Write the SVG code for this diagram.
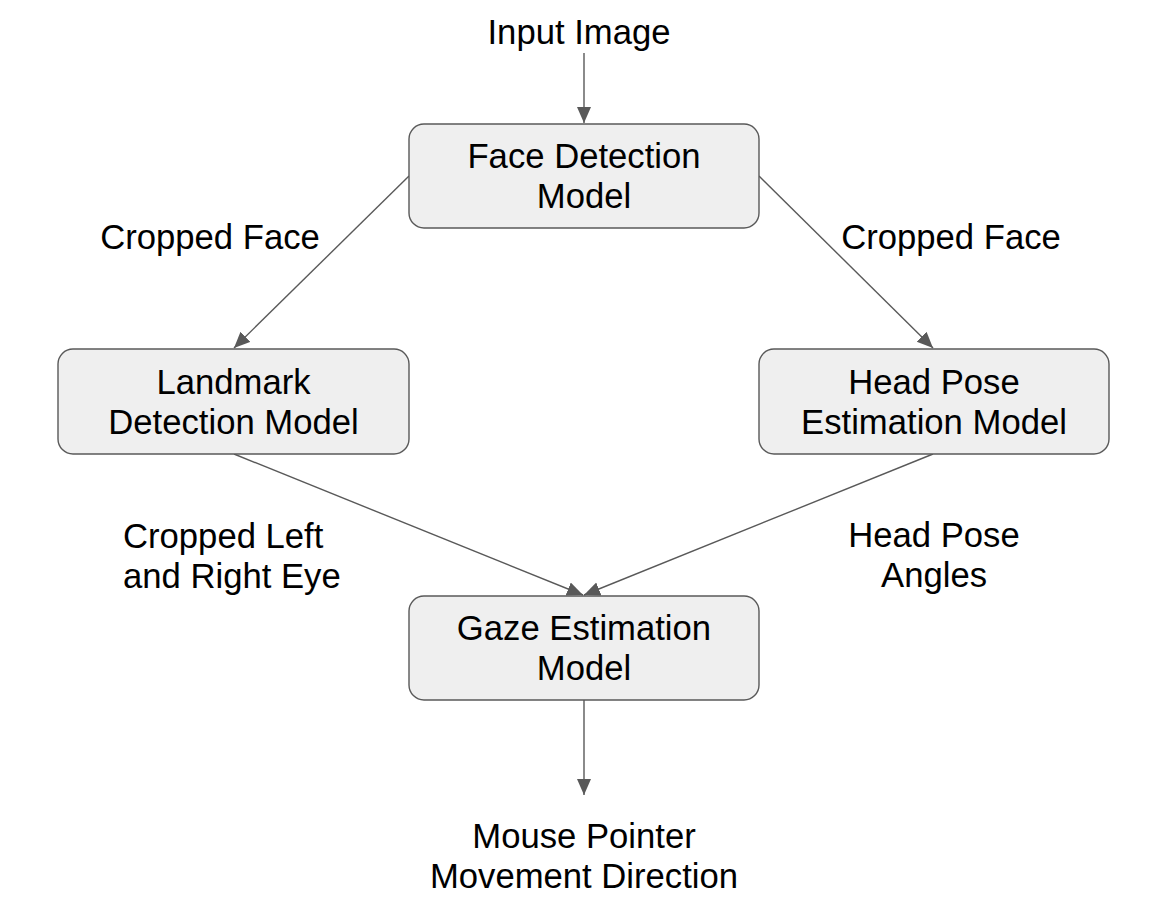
<svg xmlns="http://www.w3.org/2000/svg" width="1170" height="908" viewBox="0 0 1170 908">
<style>
.box{fill:#efefef;stroke:#595959;stroke-width:1.4}
.t{font-family:"Liberation Sans",Arial,sans-serif;font-size:34.67px;fill:#000;text-anchor:middle}
.tl{text-anchor:start}
.c{stroke:#595959;stroke-width:1.4;fill:none;marker-end:url(#ah)}
</style>
<defs>
<marker id="ah" markerUnits="userSpaceOnUse" markerWidth="18" markerHeight="16" refX="16" refY="7" orient="auto" viewBox="0 0 18 16">
<path d="M0,0 L16,7 L0,14 z" fill="#595959"/>
</marker>
</defs>
<rect width="1170" height="908" fill="#fff"/>
<g id="connectors">
<line class="c" x1="584" y1="53" x2="584" y2="123"/>
<line class="c" x1="409" y1="176" x2="234" y2="348"/>
<line class="c" x1="759" y1="176" x2="933" y2="348"/>
<line class="c" x1="234" y1="454" x2="583" y2="595"/>
<line class="c" x1="933" y1="454" x2="584" y2="595"/>
<line class="c" x1="584" y1="700" x2="584" y2="795"/>
</g>
<g id="input-label"><text class="t" x="579" y="44">Input Image</text></g>
<g id="face-detection">
<rect class="box" x="409" y="124" width="350" height="104" rx="15"/>
<text class="t" x="584" y="168">Face Detection</text>
<text class="t" x="584" y="208">Model</text>
</g>
<g id="label-cropped-face-left"><text class="t" x="210" y="249">Cropped Face</text></g>
<g id="label-cropped-face-right"><text class="t" x="951" y="249">Cropped Face</text></g>
<g id="landmark">
<rect class="box" x="58" y="349" width="351" height="105" rx="15"/>
<text class="t" x="233.5" y="394">Landmark</text>
<text class="t" x="233.5" y="434">Detection Model</text>
</g>
<g id="head-pose">
<rect class="box" x="759" y="349" width="350" height="105" rx="15"/>
<text class="t" x="934" y="394">Head Pose</text>
<text class="t" x="934" y="434">Estimation Model</text>
</g>
<g id="label-eyes">
<text class="t tl" x="123" y="548">Cropped Left</text>
<text class="t tl" x="123" y="588">and Right Eye</text>
</g>
<g id="label-angles">
<text class="t" x="934" y="547">Head Pose</text>
<text class="t" x="934" y="587">Angles</text>
</g>
<g id="gaze">
<rect class="box" x="409" y="596" width="350" height="104" rx="15"/>
<text class="t" x="584" y="640">Gaze Estimation</text>
<text class="t" x="584" y="680">Model</text>
</g>
<g id="output-label">
<text class="t" x="584" y="848">Mouse Pointer</text>
<text class="t" x="584" y="888">Movement Direction</text>
</g>
</svg>
